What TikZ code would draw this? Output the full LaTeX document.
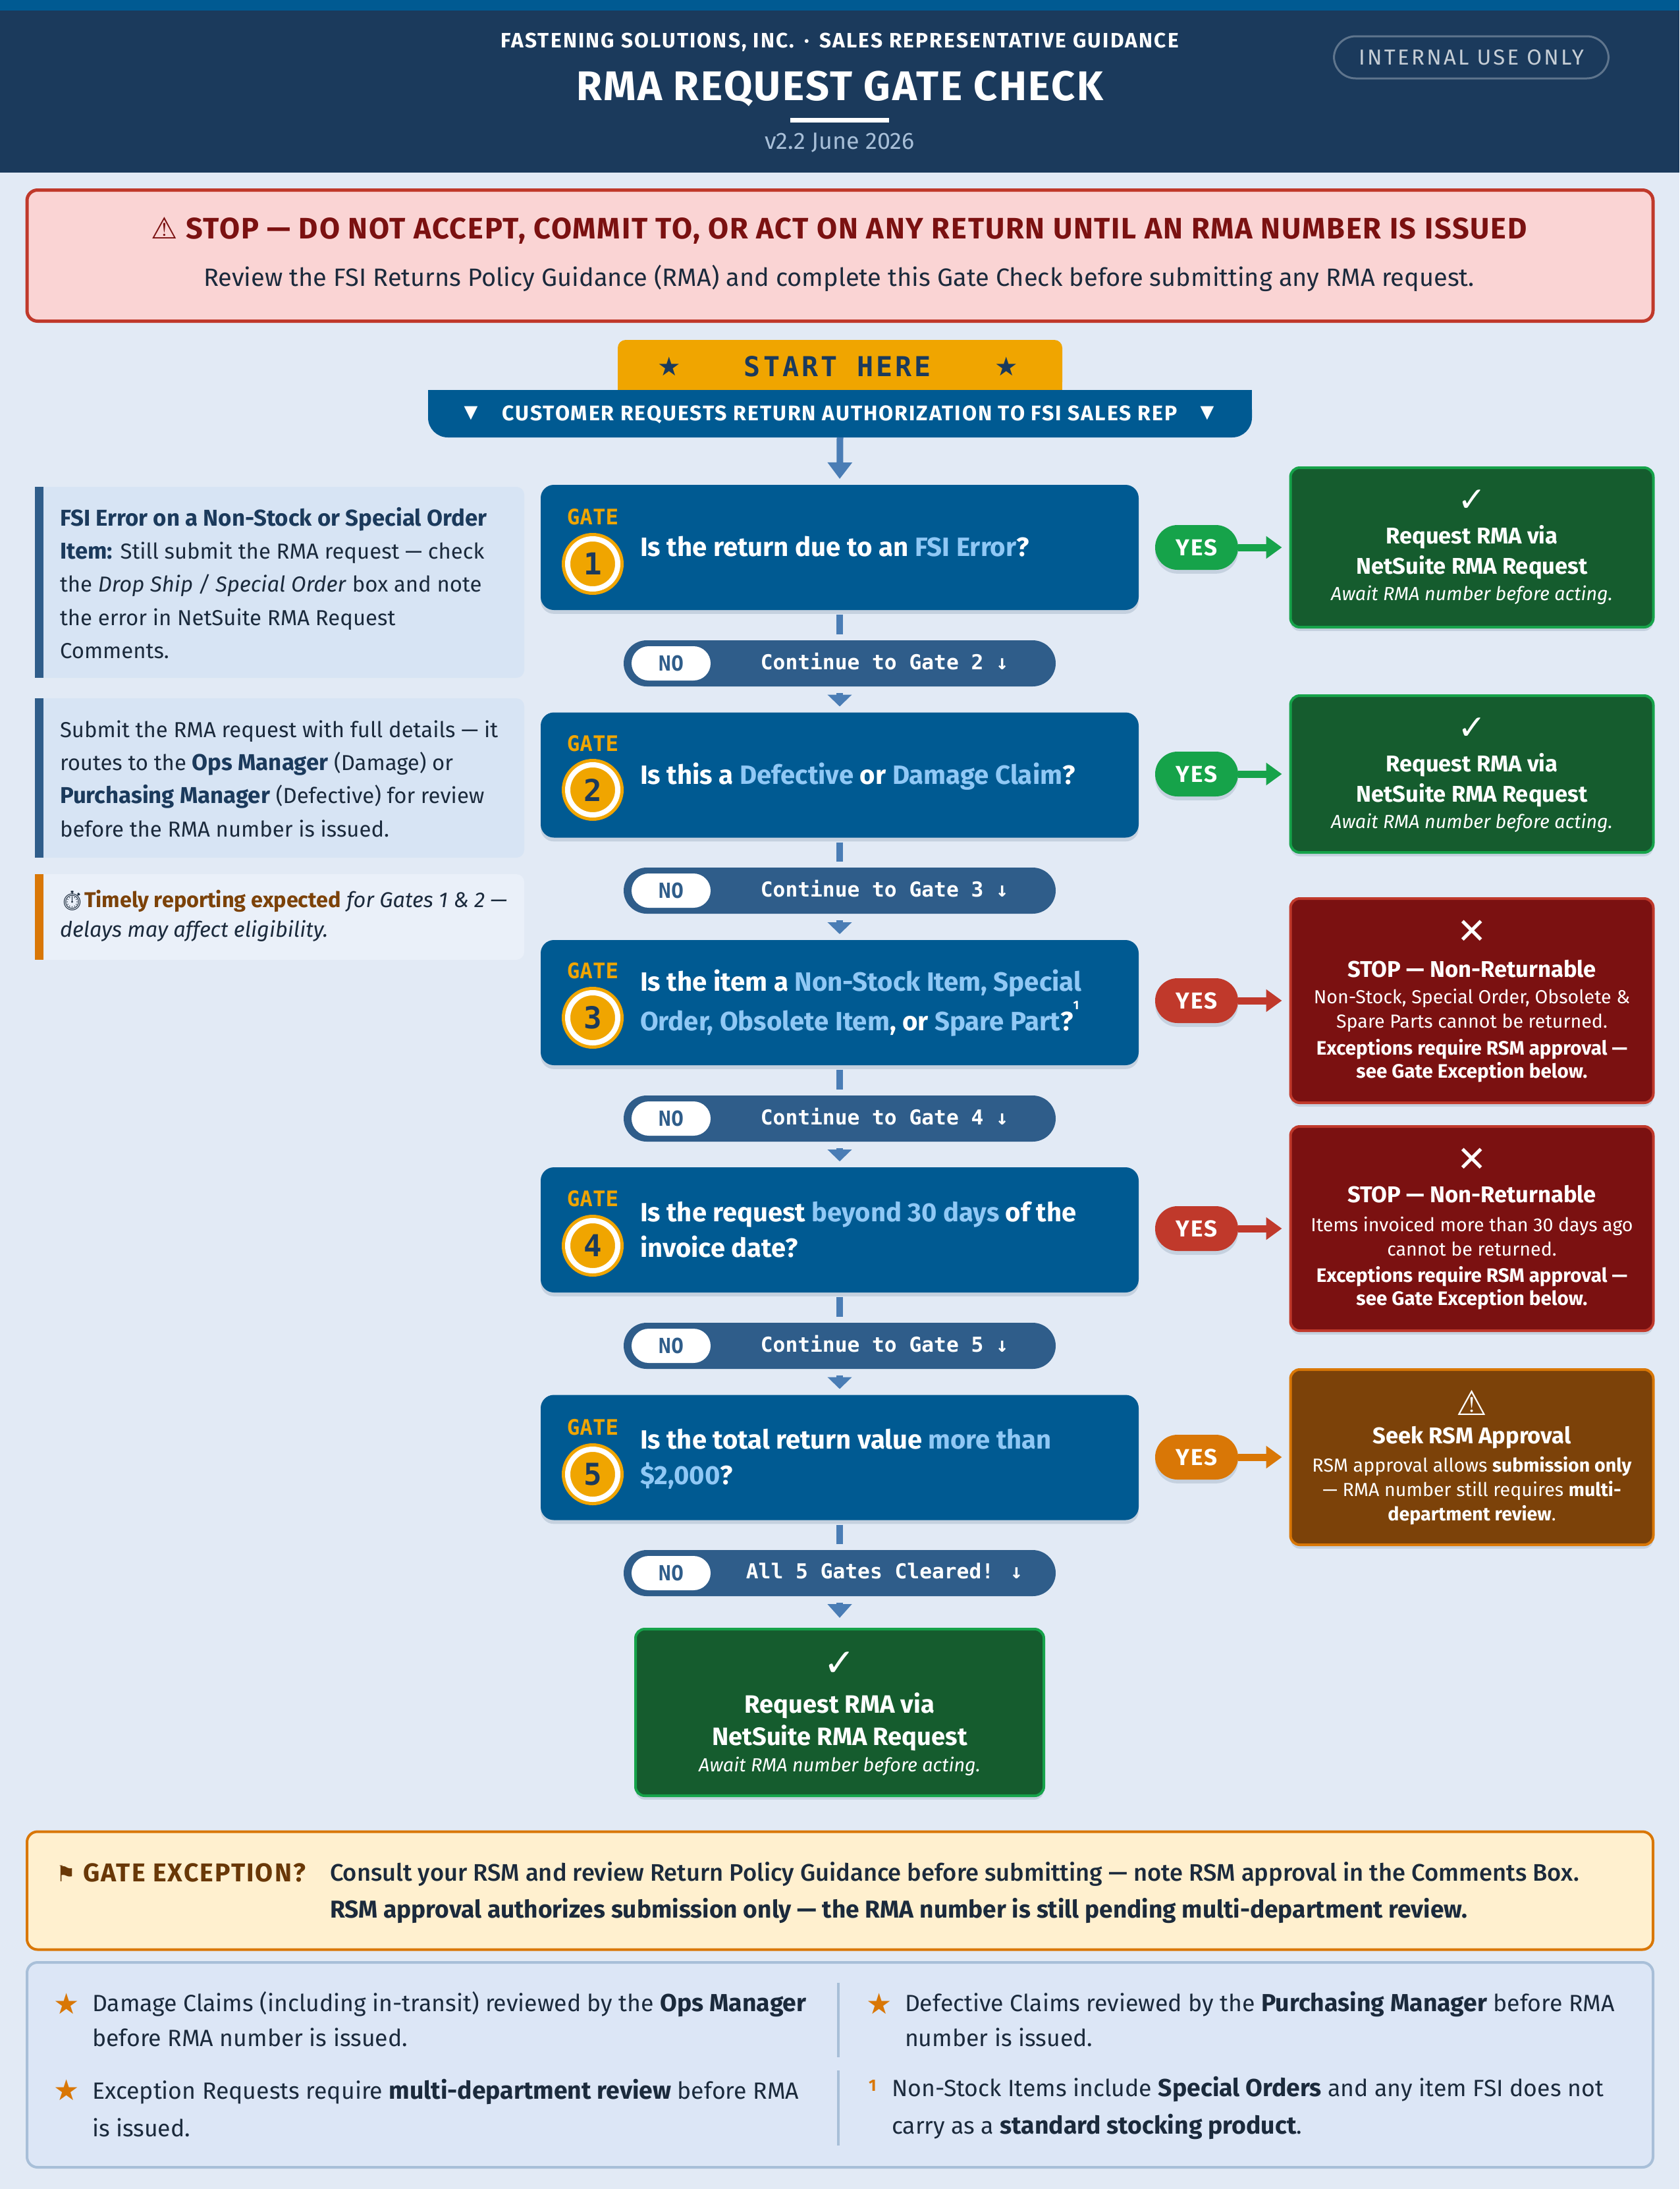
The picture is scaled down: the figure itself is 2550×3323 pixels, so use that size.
\documentclass[tikz,border=0pt]{standalone}
\usepackage{fontspec}
\setmainfont{Fira Sans}
\newfontfamily\monofam{DejaVu Sans Mono}
\newfontfamily\symfam{DejaVu Sans}
\newfontfamily\emofam{Noto Emoji}
\newfontfamily\medfam{Fira Sans Medium}
\usetikzlibrary{arrows.meta,shadows}
\newcommand{\pxu}{0.24pt}
\newcommand{\keyword}[1]{\textcolor{navy}{\fontsize{8.35}{12.1}\selectfont\textbf{#1}}}
\newcommand{\footkey}[1]{{\fontsize{8.97}{12.9}\selectfont\textbf{#1}}}
\definecolor{pagebg}{HTML}{E2EAF5}
\definecolor{navy}{HTML}{1B3A5C}
\definecolor{gateblue}{HTML}{005A92}
\definecolor{slateband}{HTML}{2F5D8A}
\definecolor{stubblue}{HTML}{4A7DB5}
\definecolor{amber}{HTML}{F0A500}
\definecolor{skytext}{HTML}{90C8F5}
\definecolor{inktext}{HTML}{1B2A3C}
\definecolor{yesgreen}{HTML}{16A34A}
\definecolor{boxgreen}{HTML}{155C2E}
\definecolor{yesred}{HTML}{C0392B}
\definecolor{boxred}{HTML}{7B1111}
\definecolor{yesorange}{HTML}{D97706}
\definecolor{boxorange}{HTML}{7C4209}
\definecolor{footline}{HTML}{A8BFD8}
\definecolor{notefill}{HTML}{D7E4F4}
\definecolor{notefaint}{HTML}{EAF0F9}
\definecolor{stopfill}{HTML}{FAD4D4}
\definecolor{excfill}{HTML}{FFF0CF}
\definecolor{footfill}{HTML}{DCE6F6}
\tikzset{
  softshade/.style={drop shadow={shadow xshift=0pt,shadow yshift=-1.4pt,opacity=.14,fill=navy}},
  plain/.style={inner sep=0pt,outer sep=0pt},
  gatebox/.style={plain,fill=gateblue,rounded corners=20*\pxu,minimum width=908*\pxu,minimum height=190*\pxu,softshade},
  gatelabel/.style={plain,text=amber,font=\monofam\bfseries\fontsize{7.8}{9}\selectfont},
  gatenum/.style={plain,circle,minimum size=76*\pxu,fill=amber,draw=white,line width=8*\pxu,text=navy,
    font=\monofam\bfseries\fontsize{11}{12}\selectfont,preaction={draw=amber,line width=18*\pxu}},
  question/.style={plain,anchor=west,align=left,text=white,font=\bfseries\fontsize{9.65}{13.6}\selectfont},
  nopill/.style={plain,fill=slateband,rounded corners=35*\pxu,minimum width=656*\pxu,minimum height=70*\pxu},
  notag/.style={plain,fill=white,rounded corners=26*\pxu,minimum width=120*\pxu,minimum height=52*\pxu,text=slateband,
    font=\monofam\bfseries\fontsize{7.6}{9}\selectfont},
  nolabel/.style={plain,text=white,font=\monofam\bfseries\fontsize{7.5}{9}\selectfont},
  yespill/.style={plain,rounded corners=34*\pxu,minimum width=126*\pxu,minimum height=68*\pxu,text=white,
    font=\bfseries\fontsize{8.4}{10}\selectfont\addfontfeature{LetterSpace=6},softshade},
  stub/.style={stubblue,line width=10*\pxu},
  stubarrow/.style={stub,-{Triangle[width=36*\pxu,length=18*\pxu]}},
  yesarrow/.style={line width=11*\pxu,-{Triangle[width=33*\pxu,length=24*\pxu]},shorten >=13*\pxu},
  outcome/.style={plain,rounded corners=14*\pxu,line width=4*\pxu,minimum width=551*\pxu,softshade},
  glyph/.style={plain,text=white,font=\symfam\fontsize{12.5}{14}\selectfont},
  outhead/.style={plain,align=center,text=white,font=\bfseries\fontsize{8.3}{11}\selectfont},
  outnote/.style={plain,align=center,text=white,font=\itshape\fontsize{6.9}{8}\selectfont},
  outbody/.style={plain,align=center,text=white,font=\fontsize{6.87}{8.9}\selectfont},
  outbold/.style={plain,align=center,text=white,font=\bfseries\fontsize{7.1}{8.4}\selectfont},
  notebox/.style={plain,fill=#1,rounded corners=12*\pxu,minimum width=743*\pxu},
  notetext/.style={plain,anchor=west,align=left,text=inktext,font=\fontsize{7.9}{12.1}\selectfont},
  widebox/.style={plain,rounded corners=16*\pxu,line width=4*\pxu,minimum width=2469*\pxu},
  foottext/.style={plain,anchor=west,align=left,text=inktext,font=\fontsize{8.56}{12.9}\selectfont},
  footstar/.style={plain,text=yesorange,font=\symfam\fontsize{10.5}{12}\selectfont},
  footrule/.style={footline,line width=3.5*\pxu},
}
\begin{document}
\begin{tikzpicture}[x=0.24pt,y=-0.24pt]
    \useasboundingbox (0,0) rectangle (2550,3323);
    \fill[pagebg] (0,0) rectangle (2550,3323);
    \fill[navy] (0,16) rectangle (2550,262);
    \fill[gateblue] (0,0) rectangle (2550,16);
    \node[plain,text=white,font=\bfseries\fontsize{7.6}{8}\selectfont\addfontfeature{LetterSpace=7}] (org) at (1275,64) {FASTENING SOLUTIONS, INC. \,·\, SALES REPRESENTATIVE GUIDANCE};
    \node[plain,text=white,font=\bfseries\fontsize{15.1}{16}\selectfont\addfontfeature{LetterSpace=4}] (title) at (1275,135) {RMA REQUEST GATE CHECK};
    \fill[white] (1200,179) rectangle (1350,186);
    \node[plain,text=footline,font=\fontsize{8.6}{9}\selectfont] (version) at (1275,217) {v2.2 June 2026};
    \node[plain,draw=white!30!navy,line width=3*\pxu,rounded corners=33*\pxu,minimum width=417*\pxu,minimum height=64*\pxu,
      text=white!75!navy,font=\fontsize{7.9}{9}\selectfont\addfontfeature{LetterSpace=10}] (internal) at (2234,87) {INTERNAL USE ONLY};

    \node[widebox,fill=stopfill,draw=yesred,line width=5*\pxu,minimum height=199*\pxu] (stopbanner) at (1275.5,388) {};
    \node[plain,text=boxred,font=\bfseries\fontsize{10.8}{12}\selectfont\addfontfeature{LetterSpace=4}] (stophead) at (1274,350) {{\symfam ⚠} STOP — DO NOT ACCEPT, COMMIT TO, OR ACT ON ANY RETURN UNTIL AN RMA NUMBER IS ISSUED};
    \node[plain,text=inktext,font=\fontsize{9.13}{12}\selectfont] (stopsub) at (1274,422) {Review the FSI Returns Policy Guidance (RMA) and complete this Gate Check before submitting any RMA request.};

    \fill[amber,rounded corners=12*\pxu] (938,592) -- (938,516) -- (1613,516) -- (1613,592) [sharp corners] -- cycle;
    \fill[amber] (938,570) rectangle (1613,592);
    \node[plain,text=navy,font=\symfam\fontsize{9.5}{11}\selectfont] (starl) at (1016,556) {★};
    \node[plain,text=navy,font=\symfam\fontsize{9.5}{11}\selectfont] (starr) at (1528,556) {★};
    \node[plain,text=navy,font=\monofam\bfseries\fontsize{10}{12}\selectfont\addfontfeature{LetterSpace=10}] (start) at (1272,556) {START HERE};
    \fill[gateblue,rounded corners=30*\pxu] (650,592) -- (650,664) -- (1901,664) -- (1901,592) [sharp corners] -- cycle;
    \fill[gateblue] (650,592) rectangle (1901,620);
    \node[plain,minimum width=1251*\pxu,minimum height=72*\pxu] (request) at (1275.5,628) {};
    \node[plain,text=white,font=\symfam\fontsize{6.5}{8}\selectfont] (trl) at (715,627) {▼};
    \node[plain,text=white,font=\symfam\fontsize{6.5}{8}\selectfont] (trr) at (1833,627) {▼};
    \node[plain,text=white,font=\bfseries\fontsize{7.7}{9}\selectfont\addfontfeature{LetterSpace=6}] (requesttxt) at (1275,629) {CUSTOMER REQUESTS RETURN AUTHORIZATION TO FSI SALES REP};

    \node[gatebox] (gate1) at (1275,831) {};
    \node[gatebox] (gate2) at (1275,1176.5) {};
    \node[gatebox] (gate3) at (1275,1522) {};
    \node[gatebox] (gate4) at (1275,1867) {};
    \node[gatebox] (gate5) at (1275,2212.5) {};

    \draw[stub,-{Triangle[width=36*\pxu,length=25*\pxu]},shorten >=9*\pxu] (request.south) -- (gate1.north);

    \node[gatelabel] (gatetag1) at (900,785) {GATE};
    \node[gatenum] (num1) at (900,856) {1};
    \node[question] (ask1) at (972,830) {Is the return due to an \textcolor{skytext}{FSI Error}?};
    \node[gatelabel] (gatetag2) at (900,1129) {GATE};
    \node[gatenum] (num2) at (900,1199) {2};
    \node[question] (ask2) at (972,1179) {Is this a \textcolor{skytext}{Defective} or \textcolor{skytext}{Damage Claim}?};
    \node[gatelabel] (gatetag3) at (900,1474) {GATE};
    \node[gatenum] (num3) at (900,1545) {3};
    \node[question,font=\bfseries\fontsize{9.65}{14.4}\selectfont] (ask3) at (972,1523) {Is the item a \textcolor{skytext}{Non-Stock Item, Special}\\\textcolor{skytext}{Order, Obsolete Item}, or \textcolor{skytext}{Spare Part}?\raisebox{1.5ex}{\fontsize{4.5}{5}\selectfont 1}};
    \node[gatelabel] (gatetag4) at (900,1820) {GATE};
    \node[gatenum] (num4) at (900,1891) {4};
    \node[question,font=\bfseries\fontsize{9.6}{13}\selectfont] (ask4) at (972,1867) {Is the request \textcolor{skytext}{beyond 30 days} of the\\invoice date?};
    \node[gatelabel] (gatetag5) at (900,2167) {GATE};
    \node[gatenum] (num5) at (900,2238) {5};
    \node[question,font=\bfseries\fontsize{9.6}{13}\selectfont] (ask5) at (972,2215) {Is the total return value \textcolor{skytext}{more than}\\\textcolor{skytext}{\$2,000}?};

    \node[nopill] (no1) at (1275,1007) {};
    \node[notag] (notag1) at (1019,1007) {NO};
    \node[nolabel] (nolabel1) at (1343,1004) {Continue to Gate 2 ↓};
    \node[nopill] (no2) at (1275,1352) {};
    \node[notag] (notag2) at (1019,1352) {NO};
    \node[nolabel] (nolabel2) at (1343,1349) {Continue to Gate 3 ↓};
    \node[nopill] (no3) at (1275,1698) {};
    \node[notag] (notag3) at (1019,1698) {NO};
    \node[nolabel] (nolabel3) at (1343,1695) {Continue to Gate 4 ↓};
    \node[nopill] (no4) at (1275,2043) {};
    \node[notag] (notag4) at (1019,2043) {NO};
    \node[nolabel] (nolabel4) at (1343,2040) {Continue to Gate 5 ↓};
    \node[nopill] (no5) at (1275,2388) {};
    \node[notag] (notag5) at (1019,2388) {NO};
    \node[nolabel] (nolabel5) at (1343,2385) {All 5 Gates Cleared! ↓};

    \draw[stub,shorten <=7*\pxu,shorten >=9*\pxu] (gate1.south) -- (no1.north);
    \draw[stub,shorten <=7*\pxu,shorten >=9*\pxu] (gate2.south) -- (no2.north);
    \draw[stub,shorten <=7*\pxu,shorten >=9*\pxu] (gate3.south) -- (no3.north);
    \draw[stub,shorten <=7*\pxu,shorten >=9*\pxu] (gate4.south) -- (no4.north);
    \draw[stub,shorten <=7*\pxu,shorten >=9*\pxu] (gate5.south) -- (no5.north);
    \draw[stubarrow,shorten <=10*\pxu,shorten >=9*\pxu] (no1.south) -- (gate2.north);
    \draw[stubarrow,shorten <=10*\pxu,shorten >=9*\pxu] (no2.south) -- (gate3.north);
    \draw[stubarrow,shorten <=10*\pxu,shorten >=9*\pxu] (no3.south) -- (gate4.north);
    \draw[stubarrow,shorten <=10*\pxu,shorten >=9*\pxu] (no4.south) -- (gate5.north);

    \node[outcome,fill=boxgreen,draw=yesgreen,minimum height=242*\pxu] (box1) at (2235,831) {};
    \node[glyph] (mark1) at (2235,760) {✓};
    \node[outhead] (head1) at (2235,838) {Request RMA via\\NetSuite RMA Request};
    \node[outnote] (foot1) at (2235,903) {Await RMA number before acting.};
    \node[outcome,fill=boxgreen,draw=yesgreen,minimum height=238*\pxu] (box2) at (2235,1175) {};
    \node[glyph] (mark2) at (2235,1106) {✓};
    \node[outhead] (head2) at (2235,1184) {Request RMA via\\NetSuite RMA Request};
    \node[outnote] (foot2) at (2235,1249) {Await RMA number before acting.};
    \node[outcome,fill=boxred,draw=yesred,minimum height=310*\pxu] (box3) at (2235,1519) {};
    \node[glyph,font=\symfam\fontsize{13}{14}\selectfont] (mark3) at (2235,1415) {✕};
    \node[outhead] (head3) at (2235,1471) {STOP — Non-Returnable};
    \node[outbody] (body3) at (2235,1534) {Non-Stock, Special Order, Obsolete \&\\Spare Parts cannot be returned.};
    \node[outbold] (bold3) at (2235,1610) {Exceptions require RSM approval —\\see Gate Exception below.};
    \node[outcome,fill=boxred,draw=yesred,minimum height=310*\pxu] (box4) at (2235,1865) {};
    \node[glyph,font=\symfam\fontsize{13}{14}\selectfont] (mark4) at (2235,1761) {✕};
    \node[outhead] (head4) at (2235,1813) {STOP — Non-Returnable};
    \node[outbody] (body4) at (2235,1877) {Items invoiced more than 30 days ago\\cannot be returned.};
    \node[outbold] (bold4) at (2235,1955) {Exceptions require RSM approval —\\see Gate Exception below.};
    \node[outcome,fill=boxorange,draw=yesorange,minimum height=266*\pxu] (box5) at (2235,2212) {};
    \node[glyph] (mark5) at (2235,2129) {⚠};
    \node[outhead] (head5) at (2235,2182) {Seek RSM Approval};
    \node[outbody] (body5) at (2235,2263) {RSM approval allows \textbf{submission only}\\— RMA number still requires \textbf{multi-}\\\textbf{department review}.};

    \node[yespill,fill=yesgreen] (yes1) at (1817,831) {YES};
    \node[yespill,fill=yesgreen] (yes2) at (1817,1175) {YES};
    \node[yespill,fill=yesred] (yes3) at (1817,1519) {YES};
    \node[yespill,fill=yesred] (yes4) at (1817,1865) {YES};
    \node[yespill,fill=yesorange] (yes5) at (1817,2212) {YES};
    \draw[yesarrow,yesgreen] (yes1.east) -- (box1.west);
    \draw[yesarrow,yesgreen] (yes2.east) -- (box2.west);
    \draw[yesarrow,yesred] (yes3.east) -- (box3.west);
    \draw[yesarrow,yesred] (yes4.east) -- (box4.west);
    \draw[yesarrow,yesorange] (yes5.east) -- (box5.west);

    \node[outcome,fill=boxgreen,draw=yesgreen,minimum width=620*\pxu,minimum height=253*\pxu] (finalbox) at (1275,2599.5) {};
    \node[glyph,font=\symfam\fontsize{14}{15}\selectfont] (finalmark) at (1275,2526) {✓};
    \node[outhead,font=\bfseries\fontsize{9.15}{11.8}\selectfont] (finalhead) at (1275,2614) {Request RMA via\\NetSuite RMA Request};
    \node[outnote] (finalfoot) at (1275,2681) {Await RMA number before acting.};
    \draw[stub,-{Triangle[width=36*\pxu,length=21*\pxu]},shorten <=10*\pxu,shorten >=17*\pxu] (no5.south) -- (finalbox.north);

    \node[notebox=notefill,minimum height=290*\pxu] (note1) at (424.5,884) {};
    \fill[slateband] (note1.north west) rectangle ([xshift=13*\pxu]note1.south west);
    \node[notetext] (notetxt1) at (91,885) {\keyword{FSI Error on a Non-Stock or Special Order}\\\keyword{Item:} Still submit the RMA request — check\\the \textit{Drop Ship / Special Order} box and note\\the error in NetSuite RMA Request\\Comments.};
    \node[notebox=notefill,minimum height=242*\pxu] (note2) at (424.5,1181) {};
    \fill[slateband] (note2.north west) rectangle ([xshift=13*\pxu]note2.south west);
    \node[notetext] (notetxt2) at (91,1182) {Submit the RMA request with full details — it\\routes to the \keyword{Ops Manager} (Damage) or\\\keyword{Purchasing Manager} (Defective) for review\\before the RMA number is issued.};
    \node[notebox=notefaint,minimum height=130*\pxu] (note3) at (424.5,1392) {};
    \fill[yesorange] (note3.north west) rectangle ([xshift=13*\pxu]note3.south west);
    \node[notetext,font=\itshape\fontsize{7.8}{10.8}\selectfont] (notetxt3) at (91,1390) {{\emofam\upshape\fontsize{7}{10}\selectfont ⏱}\textcolor{boxorange}{\upshape\textbf{Timely reporting expected}} for Gates 1 \& 2 —\\delays may affect eligibility.};

    \node[widebox,fill=excfill,draw=yesorange,minimum height=179*\pxu] (excbox) at (1275.5,2870) {};
    \node[plain,anchor=west,text=boxorange!85!black,font=\bfseries\fontsize{9.4}{11}\selectfont\addfontfeature{LetterSpace=5.4}] (exchead) at (85,2843) {{\symfam\fontsize{8}{10}\selectfont ⚑} GATE EXCEPTION?};
    \node[plain,anchor=west,align=left,text=inktext,font=\fontsize{8.9}{13.6}\selectfont] (exctxt) at (501,2873) {{\medfam\fontsize{8.72}{13.6}\selectfont Consult your RSM and review Return Policy Guidance before submitting — note RSM approval in the Comments Box.}\\\textbf{RSM approval authorizes submission only — the RMA number is still pending multi-department review.}};

    \node[widebox,fill=footfill,draw=footline,minimum height=311*\pxu] (footbox) at (1275.5,3134.5) {};
    \coordinate (rulea) at (1273,3010);
    \coordinate (ruleb) at (1273,3123);
    \coordinate (rulec) at (1273,3143);
    \coordinate (ruled) at (1273,3257);
    \draw[footrule] (rulea) -- (ruleb);
    \draw[footrule] (rulec) -- (ruled);
    \node[footstar] (star1) at (101,3042) {★};
    \node[foottext] (foottxt1) at (140,3065) {Damage Claims (including in-transit) reviewed by the \footkey{Ops Manager}\\before RMA number is issued.};
    \node[footstar] (star2) at (1335,3042) {★};
    \node[foottext] (foottxt2) at (1374,3065) {Defective Claims reviewed by the \footkey{Purchasing Manager} before RMA\\number is issued.};
    \node[footstar] (star3) at (101,3173) {★};
    \node[foottext,font=\fontsize{8.56}{13.5}\selectfont] (foottxt3) at (140,3200) {Exception Requests require \footkey{multi-department review} before RMA\\is issued.};
    \node[plain,text=yesorange,font=\bfseries\fontsize{6}{7}\selectfont] (fnmark) at (1325,3166) {1};
    \node[foottext,font=\fontsize{8.56}{13.5}\selectfont] (foottxt4) at (1354,3200) {Non-Stock Items include \footkey{Special Orders} and any item FSI does not\\carry as a \footkey{standard stocking product}.};
  \end{tikzpicture}
\end{document}
